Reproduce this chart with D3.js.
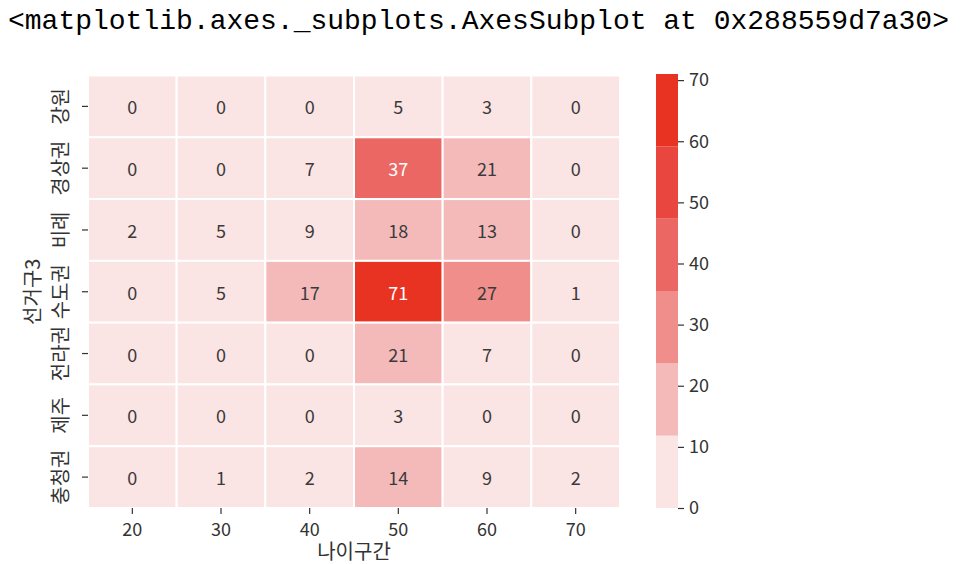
<!DOCTYPE html>
<html>
<head>
<meta charset="utf-8">
<script src="https://cdn.jsdelivr.net/npm/d3@7"></script>
<style>
  body { margin: 0; background: #fff; }
  svg text { font-family: "Noto Sans CJK KR", "Noto Sans", sans-serif; }
  .title { font-family: "Liberation Mono", "DejaVu Sans Mono", monospace !important; }
</style>
</head>
<body>
<svg id="chart" width="962" height="564"></svg>
<script>
// Rows and columns of the table
const regions = ['강원', '경상권', '비례', '수도권', '전라권', '제주', '충청권'];
const ageGroups = ['20', '30', '40', '50', '60', '70'];

// Counts per region, one value per age group
const counts = [
    [0, 0, 0, 5, 3, 0],
    [0, 0, 7, 37, 21, 0],
    [2, 5, 9, 18, 13, 0],
    [0, 5, 17, 71, 27, 1],
    [0, 0, 0, 21, 7, 0],
    [0, 0, 0, 3, 0, 0],
    [0, 1, 2, 14, 9, 2]
];

const colorbarTicks = [0, 10, 20, 30, 40, 50, 60, 70];
const palette = ['#fbe4e4', '#f4baba', '#ef8e8b', '#eb6764', '#e9463f', '#e83323'];

const svg = d3.select('#chart');
const plot = { left: 88, right: 620, top: 75.5, bottom: 508 };

const maxValue = d3.max(counts.flat());

const xScale = d3.scaleBand()
    .domain(ageGroups)
    .range([plot.left, plot.right]);

const yScale = d3.scaleBand()
    .domain(regions)
    .range([plot.top, plot.bottom]);

const color = d3.scaleQuantize()
    .domain([0, maxValue])
    .range(palette);

// Flatten the table into cells
let cells = [];
regions.forEach((region, i) => {
    ageGroups.forEach((age, j) => {
        cells.push({ region: region, age: age, value: counts[i][j] });
    });
});

// Title line printed by the notebook
svg.append('text')
    .attr('class', 'title')
    .attr('x', 8)
    .attr('y', 29)
    .style('font-size', '28px')
    .attr('fill', '#000')
    .text('<matplotlib.axes._subplots.AxesSubplot at 0x288559d7a30>');

// Heatmap cells
svg.selectAll('.cell')
    .data(cells)
    .enter()
    .append('rect')
    .attr('class', 'cell')
    .attr('x', d => xScale(d.age))
    .attr('y', d => yScale(d.region))
    .attr('width', xScale.bandwidth())
    .attr('height', yScale.bandwidth())
    .attr('fill', d => color(d.value))
    .attr('stroke', '#fff')
    .attr('stroke-width', 2);

// Cell annotations
svg.selectAll('.annot')
    .data(cells)
    .enter()
    .append('text')
    .attr('class', 'annot')
    .attr('x', d => xScale(d.age) + xScale.bandwidth() / 2)
    .attr('y', d => yScale(d.region) + yScale.bandwidth() / 2)
    .attr('text-anchor', 'middle')
    .attr('dominant-baseline', 'central')
    .style('font-size', '18px')
    .attr('fill', d => palette.indexOf(color(d.value)) >= 3 ? '#fff' : '#3a3a3a')
    .text(d => d.value);

// x axis
const xAxis = svg.append('g')
    .attr('transform', `translate(0,${plot.bottom})`)
    .call(d3.axisBottom(xScale).tickSize(6).tickPadding(9));
xAxis.select('.domain').remove();
xAxis.selectAll('line').attr('stroke', '#333').attr('stroke-width', 1.2);
xAxis.selectAll('text').style('font-size', '18px').attr('fill', '#333');

// y axis with vertical labels
const yAxis = svg.append('g')
    .attr('transform', `translate(${plot.left},0)`)
    .call(d3.axisLeft(yScale).tickSize(6));
yAxis.select('.domain').remove();
yAxis.selectAll('line').attr('stroke', '#333').attr('stroke-width', 1.2);
yAxis.selectAll('text')
    .attr('x', null)
    .attr('dy', null)
    .attr('text-anchor', 'middle')
    .attr('transform', 'translate(-20,0) rotate(-90)')
    .style('font-size', '20px')
    .attr('fill', '#333');

// Axis titles
svg.append('text')
    .attr('x', (plot.left + plot.right) / 2)
    .attr('y', 559)
    .attr('text-anchor', 'middle')
    .style('font-size', '20px')
    .attr('fill', '#333')
    .text('나이구간');

svg.append('text')
    .attr('transform', `translate(40,${(plot.top + plot.bottom) / 2}) rotate(-90)`)
    .attr('text-anchor', 'middle')
    .style('font-size', '20px')
    .attr('fill', '#333')
    .text('선거구3');

// Colorbar
const cbar = { left: 656, width: 22, top: 74, bottom: 508 };
const cScale = d3.scaleLinear()
    .domain([0, maxValue])
    .range([cbar.bottom, cbar.top]);

const bands = palette.map(c => {
    const ext = color.invertExtent(c);
    return { color: c, lo: ext[0], hi: ext[1] };
});

svg.selectAll('.cbar')
    .data(bands)
    .enter()
    .append('rect')
    .attr('class', 'cbar')
    .attr('x', cbar.left)
    .attr('width', cbar.width)
    .attr('y', d => cScale(d.hi))
    .attr('height', d => cScale(d.lo) - cScale(d.hi))
    .attr('fill', d => d.color);

const cAxis = svg.append('g')
    .attr('transform', `translate(${cbar.left + cbar.width},0)`)
    .call(d3.axisRight(cScale).tickValues(colorbarTicks).tickSize(6).tickPadding(5));
cAxis.select('.domain').remove();
cAxis.selectAll('line').attr('stroke', '#333').attr('stroke-width', 1.2);
cAxis.selectAll('text').style('font-size', '18px').attr('fill', '#333');
</script>
</body>
</html>
